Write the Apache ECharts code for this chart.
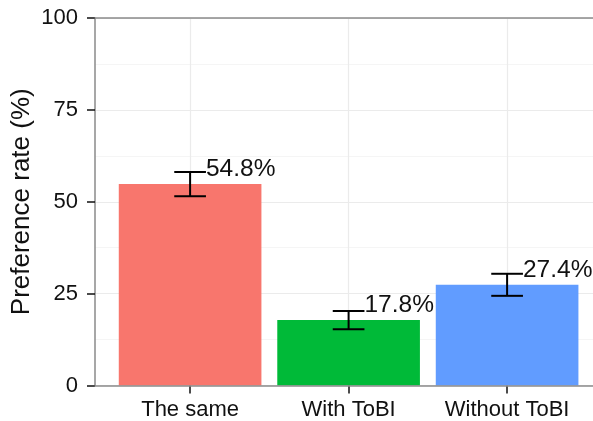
<!DOCTYPE html>
<html>
<head>
<meta charset="utf-8">
<script src="https://cdn.jsdelivr.net/npm/echarts@6/dist/echarts.min.js"></script>
<style>
  html, body { margin: 0; padding: 0; background: #fff; }
  #chart { width: 593px; height: 421px; }
</style>
</head>
<body>
<div id="chart"></div>
<script>
// Preference rates per condition, with error-bar bounds
const categories = ['The same', 'With ToBI', 'Without ToBI'];
const rates = [54.8, 17.8, 27.4];
const lower = [51.5, 15.3, 24.4];
const upper = [58.1, 20.3, 30.4];
const barColors = ['#F8766D', '#00BA38', '#619CFF'];
const yTicks = [0, 25, 50, 75, 100];
const catPositions = [0, 1, 2];

const FONT = '"Liberation Sans", Arial, Helvetica, sans-serif';
const AXIS_GREY = '#8a8a8a';
const X_MIN = -0.6;
const X_MAX = 2.6;

const chart = echarts.init(document.getElementById('chart'), null, { renderer: 'canvas' });

const barData = rates.map((v, i) => [catPositions[i], v]);
const errData = rates.map((v, i) => [catPositions[i], lower[i], upper[i], v]);

// Bare axis line drawn above the bars
function lineOnlyAxis(position) {
  return {
    type: 'value',
    position: position,
    min: X_MIN,
    max: X_MAX,
    z: 5,
    axisLine: { show: true, onZero: false, lineStyle: { color: AXIS_GREY, width: 1.5 } },
    axisTick: { show: false },
    axisLabel: { show: false },
    splitLine: { show: false }
  };
}

chart.setOption({
  animation: false,
  backgroundColor: '#ffffff',
  grid: { left: 95, top: 18, bottom: 35.5, width: 507.2, containLabel: false, outerBoundsMode: 'none' },
  xAxis: [
    {
      type: 'value',
      position: 'bottom',
      min: X_MIN,
      max: X_MAX,
      axisLine: { show: false, onZero: false },
      axisTick: { show: true, customValues: catPositions, length: 8, lineStyle: { color: '#111', width: 1.5 } },
      axisLabel: {
        show: true,
        customValues: catPositions,
        margin: 13,
        color: '#111',
        fontFamily: FONT,
        fontSize: 22,
        formatter: (v) => categories[Math.round(v)] || ''
      },
      splitLine: { show: true, customValues: catPositions, lineStyle: { color: '#ebebeb', width: 1.2 } }
    },
    lineOnlyAxis('top'),
    lineOnlyAxis('bottom')
  ],
  yAxis: {
    type: 'value',
    min: 0,
    max: 100,
    interval: 25,
    name: 'Preference rate (%)',
    nameLocation: 'middle',
    nameGap: 60,
    nameMoveOverlap: false,
    nameTextStyle: { color: '#111', fontFamily: FONT, fontSize: 26 },
    axisLine: { show: true, onZero: false, lineStyle: { color: AXIS_GREY, width: 1.5 } },
    axisTick: { show: true, length: 8, lineStyle: { color: '#111', width: 1.5 } },
    axisLabel: {
      margin: 17,
      color: '#111',
      fontFamily: FONT,
      fontSize: 22,
      formatter: (v) => (yTicks.includes(v) ? String(v) : '')
    },
    splitLine: { show: true, lineStyle: { color: '#ebebeb', width: 1.2 } },
    minorTick: { show: false, splitNumber: 2 },
    minorSplitLine: { show: true, lineStyle: { color: '#f5f5f5', width: 1 } }
  },
  series: [
    {
      name: 'rate',
      type: 'custom',
      xAxisIndex: 0,
      data: barData,
      z: 2,
      renderItem: (params, api) => {
        const i = api.value(0);
        const v = api.value(1);
        const p0 = api.coord([i - 0.45, v]);
        const p1 = api.coord([i + 0.45, 0]);
        return {
          type: 'rect',
          shape: { x: p0[0], y: p0[1], width: p1[0] - p0[0], height: p1[1] - p0[1] },
          style: { fill: barColors[params.dataIndex] }
        };
      }
    },
    {
      name: 'error',
      type: 'custom',
      xAxisIndex: 0,
      data: errData,
      z: 3,
      renderItem: (params, api) => {
        const i = api.value(0);
        const lo = api.value(1);
        const hi = api.value(2);
        const v = api.value(3);
        const top = api.coord([i, hi]);
        const bot = api.coord([i, lo]);
        const capL = api.coord([i - 0.1, hi])[0];
        const capR = api.coord([i + 0.1, hi])[0];
        const labelPos = api.coord([i + 0.1, v + 4]);
        const stroke = { stroke: '#000', lineWidth: 2 };
        return {
          type: 'group',
          children: [
            { type: 'line', shape: { x1: top[0], y1: top[1], x2: bot[0], y2: bot[1] }, style: stroke },
            { type: 'line', shape: { x1: capL, y1: top[1], x2: capR, y2: top[1] }, style: stroke },
            { type: 'line', shape: { x1: capL, y1: bot[1], x2: capR, y2: bot[1] }, style: stroke },
            {
              type: 'text',
              x: labelPos[0],
              y: labelPos[1],
              style: {
                text: v.toFixed(1) + '%',
                fill: '#111',
                font: '24.5px ' + FONT,
                align: 'left',
                verticalAlign: 'middle'
              }
            }
          ]
        };
      }
    }
  ]
});
</script>
</body>
</html>
